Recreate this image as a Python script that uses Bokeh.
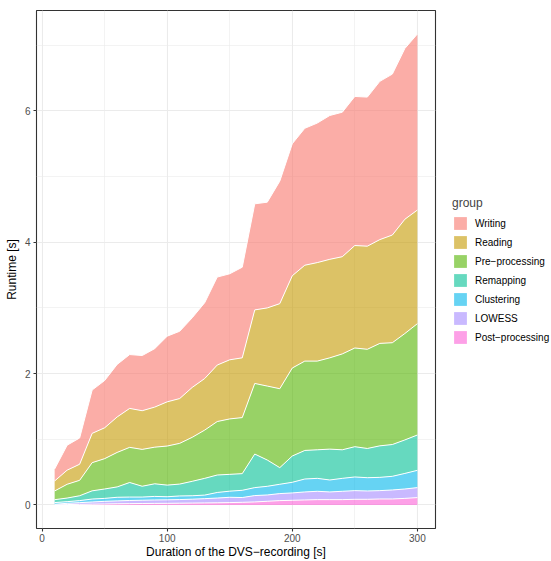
import numpy as np
from bokeh.plotting import figure
from bokeh.layouts import row
from bokeh.models import Legend, LegendItem, FixedTicker, Range1d, ColumnDataSource
from bokeh.transform import stack
from bokeh.embed import file_html
from bokeh.resources import INLINE

# ---- data ----
duration = [10, 20, 30, 40, 50, 60, 70, 80, 90, 100,
            110, 120, 130, 140, 150, 160, 170, 180, 190, 200,
            210, 220, 230, 240, 250, 260, 270, 280, 290, 300]

writing = [0.182, 0.38, 0.40, 0.66, 0.72, 0.80, 0.82, 0.84, 0.89, 1.00,
           1.025, 1.06, 1.155, 1.34, 1.31, 1.38, 1.615, 1.61, 1.865, 2.01,
           2.085, 2.125, 2.19, 2.20, 2.27, 2.27, 2.41, 2.45, 2.60, 2.68]
reading = [0.152, 0.215, 0.245, 0.446, 0.47, 0.54, 0.593, 0.589, 0.61, 0.673,
           0.682, 0.76, 0.785, 0.86, 0.90, 0.91, 1.12, 1.19, 1.295, 1.405,
           1.46, 1.50, 1.50, 1.48, 1.56, 1.57, 1.58, 1.64, 1.74, 1.73]
preprocessing = [0.133, 0.21, 0.235, 0.429, 0.462, 0.525, 0.535, 0.561, 0.558, 0.595,
                 0.62, 0.67, 0.735, 0.814, 0.844, 0.853, 1.075, 1.126, 1.202, 1.34,
                 1.36, 1.35, 1.39, 1.46, 1.503, 1.51, 1.56, 1.55, 1.62, 1.695]
remapping = [0.044, 0.055, 0.074, 0.125, 0.143, 0.158, 0.222, 0.165, 0.192, 0.177,
             0.181, 0.22, 0.255, 0.266, 0.256, 0.254, 0.511, 0.40, 0.253, 0.40,
             0.435, 0.435, 0.47, 0.435, 0.461, 0.445, 0.48, 0.484, 0.51, 0.538]
clustering = [0.026, 0.025, 0.031, 0.045, 0.045, 0.055, 0.052, 0.048, 0.054, 0.047,
              0.055, 0.052, 0.054, 0.085, 0.093, 0.11, 0.121, 0.132, 0.142, 0.162,
              0.197, 0.197, 0.182, 0.197, 0.208, 0.202, 0.202, 0.208, 0.237, 0.263]
lowess = [0.01, 0.019, 0.026, 0.033, 0.04, 0.044, 0.048, 0.05, 0.052, 0.053,
          0.055, 0.059, 0.065, 0.072, 0.081, 0.073, 0.097, 0.096, 0.107, 0.112,
          0.122, 0.127, 0.117, 0.127, 0.132, 0.127, 0.127, 0.137, 0.143, 0.152]
postprocessing = [0.0, 0.006, 0.009, 0.012, 0.015, 0.018, 0.02, 0.022, 0.024, 0.025,
                  0.027, 0.029, 0.031, 0.033, 0.036, 0.04, 0.046, 0.056, 0.066, 0.071,
                  0.076, 0.081, 0.081, 0.081, 0.086, 0.086, 0.091, 0.091, 0.10, 0.112]

groups = ["Writing", "Reading", "Pre\u2212processing", "Remapping",
          "Clustering", "LOWESS", "Post\u2212processing"]
colors = ["#F8766D", "#C49A00", "#53B400", "#00C094", "#00B6EB", "#A58AFF", "#FB61D7"]

x_ticks = [0, 100, 200, 300]
x_minor = [50, 150, 250]
y_ticks = [0, 2, 4, 6]
y_minor = [1, 3, 5, 7]

# ---- build ----
series = [writing, reading, preprocessing, remapping, clustering, lowess, postprocessing]
keys = ["s%d" % i for i in range(len(groups))]
data = {"x": duration}
for k, s in zip(keys, series):
    data[k] = s
source = ColumnDataSource(data)

totals = np.sum(np.array(series), axis=0)
ymax = float(totals.max())
ypad = 0.05 * ymax
xmin, xmax = min(duration), max(duration)
xpad = 0.05 * (xmax - xmin)

FONT = "Liberation Sans"
H = 561

p = figure(width=437, height=H, output_backend="svg", toolbar_location=None,
           x_range=Range1d(xmin - xpad, xmax + xpad),
           y_range=Range1d(-ypad, ymax + ypad),
           min_border_left=36, min_border_right=2,
           min_border_top=10, min_border_bottom=31,
           x_axis_label="Duration of the DVS\u2212recording [s]",
           y_axis_label="Runtime [s]")
p.background_fill_color = "white"
p.border_fill_color = "white"
p.outline_line_color = "#333333"
p.outline_line_width = 1.1

p.xaxis.ticker = FixedTicker(ticks=x_ticks, minor_ticks=x_minor)
p.yaxis.ticker = FixedTicker(ticks=y_ticks, minor_ticks=y_minor)
for ax in (p.xaxis, p.yaxis):
    ax.axis_line_color = None
    ax.major_tick_line_color = "#333333"
    ax.major_tick_line_width = 1.1
    ax.major_tick_out = 3
    ax.major_tick_in = 0
    ax.minor_tick_line_color = None
    ax.major_label_text_font = FONT
    ax.major_label_text_font_size = "10px"
    ax.major_label_text_color = "#4D4D4D"
    ax.major_label_standoff = 1
    ax.axis_label_text_font = FONT
    ax.axis_label_text_font_size = "12px"
    ax.axis_label_text_font_style = "normal"
    ax.axis_label_text_color = "black"
    ax.axis_label_standoff = 0
p.yaxis.major_label_standoff = 2
p.yaxis.axis_label_standoff = 3

for g in (p.xgrid, p.ygrid):
    g.grid_line_color = "#EBEBEB"
    g.grid_line_width = 1.1
    g.minor_grid_line_color = "#EBEBEB"
    g.minor_grid_line_width = 0.6

# stack bottom (Post-processing) to top (Writing)
order = list(range(len(groups)))[::-1]
stack_keys = [keys[i] for i in order]
p.varea_stack(stackers=stack_keys, x="x", source=source,
              fill_color=[colors[i] for i in order], fill_alpha=0.6)
for j in range(len(stack_keys)):
    p.line(x="x", y=stack(*stack_keys[:j + 1]), source=source,
           line_color="white", line_width=1)

# ---- legend panel (separate figure to the right) ----
leg = figure(width=114, height=H, output_backend="svg", toolbar_location=None,
             x_range=Range1d(0, 1), y_range=Range1d(0, 1),
             x_axis_location=None, y_axis_location=None,
             min_border_left=0, min_border_right=0,
             min_border_top=0, min_border_bottom=0)
leg.outline_line_color = None
leg.grid.visible = False
leg.background_fill_color = "white"
leg.border_fill_color = "white"
hidden = leg.varea_stack(stackers=stack_keys, x="x", source=source,
                         fill_color=[colors[i] for i in order], fill_alpha=0.6)
for r in hidden:
    r.visible = False

rmap = {i: r for i, r in zip(order, hidden)}
items = [LegendItem(label=groups[i], renderers=[rmap[i]]) for i in range(len(groups))]
legend = Legend(items=items, title="group", location=(15, 183))
legend.background_fill_alpha = 0
legend.border_line_color = None
legend.glyph_width = 16
legend.glyph_height = 16
legend.label_height = 16
legend.spacing = 3
legend.label_standoff = 7
legend.padding = 0
legend.margin = 0
legend.title_text_font = FONT
legend.title_text_font_size = "12px"
legend.title_text_font_style = "normal"
legend.title_standoff = 5
legend.label_text_font = FONT
legend.label_text_font_size = "10px"
legend.label_text_color = "black"
leg.add_layout(legend)

layout = row(p, leg, spacing=0)
open("out.html", "w").write(file_html(layout, INLINE))
